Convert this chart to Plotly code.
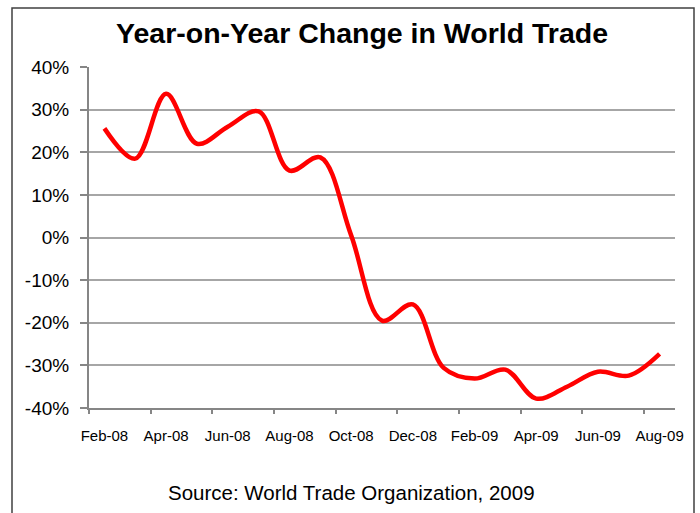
import plotly.graph_objects as go

months = ["Feb-08", "Mar-08", "Apr-08", "May-08", "Jun-08", "Jul-08", "Aug-08",
          "Sep-08", "Oct-08", "Nov-08", "Dec-08", "Jan-09", "Feb-09", "Mar-09",
          "Apr-09", "May-09", "Jun-09", "Jul-09", "Aug-09"]
yoy_change = [25.6, 18.5, 33.7, 22.0, 26.0, 29.6, 15.7, 18.8, 0.5, -19.5,
              -15.7, -30.6, -33.1, -31.0, -37.8, -35.0, -31.5, -32.4, -27.3]
y_tickvals = [-40, -30, -20, -10, 0, 10, 20, 30, 40]
y_ticktext = ["-40%", "-30%", "-20%", "-10%", "0%", "10%", "20%", "30%", "40%"]

W, H = 700, 513
L, R, T, B = 89, 675, 67, 408.5

def px(x):
    return (x - L) / (R - L)

def py(y):
    return (B - y) / (B - T)

fig = go.Figure()
fig.add_trace(go.Scatter(
    x=months, y=yoy_change, mode="lines",
    line=dict(color="#ff0000", width=4.5, shape="spline", smoothing=1.0),
    hoverinfo="skip", showlegend=False,
))

fig.update_layout(
    width=W, height=H,
    margin=dict(l=L, r=W - R, t=T, b=H - B, pad=0, autoexpand=False),
    paper_bgcolor="white", plot_bgcolor="white",
    font=dict(family="Liberation Sans, Arial, sans-serif", color="black"),
    xaxis=dict(
        type="category", categoryorder="array", categoryarray=months,
        range=[-0.5, len(months) - 0.5], automargin=False,
        tickmode="linear", tick0=0, dtick=2, tickson="boundaries", tickangle=0,
        ticks="outside", ticklen=4, tickcolor="#868686", tickwidth=1.5,
        showline=True, linecolor="#868686", linewidth=2,
        showgrid=False, zeroline=False,
        tickfont=dict(size=15, color="black"), ticklabelstandoff=13,
    ),
    yaxis=dict(
        range=[-40, 40], tickmode="array", tickvals=y_tickvals, ticktext=y_ticktext,
        automargin=False,
        ticks="outside", ticklen=7, tickcolor="#868686", tickwidth=1.5,
        showline=True, linecolor="#868686", linewidth=2,
        showgrid=True, gridcolor="#a6a6a6", gridwidth=1.5, zeroline=False,
        tickfont=dict(size=19, color="black"), ticklabelstandoff=7,
    ),
    shapes=[dict(
        type="path", xref="paper", yref="paper",
        path=f"M {px(12)} {py(530)} L {px(12)} {py(8)} L {px(694)} {py(8)} L {px(694)} {py(530)}",
        line=dict(color="#404040", width=1.5),
    )],
    annotations=[
        dict(text="<b>Year-on-Year Change in World Trade</b>", xref="paper", yref="paper",
             x=px(362), y=py(33), xanchor="center", yanchor="middle", showarrow=False,
             font=dict(size=28.5, color="black")),
        dict(text="Source: World Trade Organization, 2009", xref="paper", yref="paper",
             x=px(351), y=py(493), xanchor="center", yanchor="middle", showarrow=False,
             font=dict(size=20.5, color="black")),
    ],
)

fig.write_html("out.html")
